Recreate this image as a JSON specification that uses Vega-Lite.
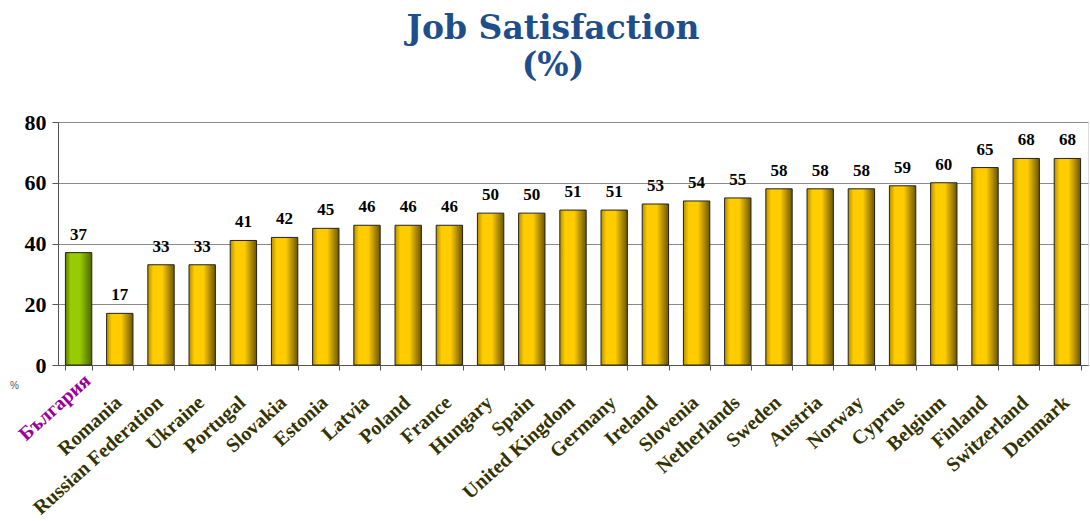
{
  "$schema": "https://vega.github.io/schema/vega-lite/v6.json",
  "width": 1030,
  "height": 243,
  "autosize": {"type": "none"},
  "padding": {"left": 58, "top": 122, "right": 2, "bottom": 156},
  "background": "white",
  "title": {
    "text": ["Job Satisfaction", "(%)"],
    "font": "DejaVu Serif",
    "fontSize": 33,
    "fontWeight": "bold",
    "color": "#1f4e8a",
    "anchor": "middle",
    "dx": -20,
    "offset": 28,
    "lineHeight": 37
  },
  "data": {
    "values": [
      {"Country": "България", "Value": 37},
      {"Country": "Romania", "Value": 17},
      {"Country": "Russian Federation", "Value": 33},
      {"Country": "Ukraine", "Value": 33},
      {"Country": "Portugal", "Value": 41},
      {"Country": "Slovakia", "Value": 42},
      {"Country": "Estonia", "Value": 45},
      {"Country": "Latvia", "Value": 46},
      {"Country": "Poland", "Value": 46},
      {"Country": "France", "Value": 46},
      {"Country": "Hungary", "Value": 50},
      {"Country": "Spain", "Value": 50},
      {"Country": "United Kingdom", "Value": 51},
      {"Country": "Germany", "Value": 51},
      {"Country": "Ireland", "Value": 53},
      {"Country": "Slovenia", "Value": 54},
      {"Country": "Netherlands", "Value": 55},
      {"Country": "Sweden", "Value": 58},
      {"Country": "Austria", "Value": 58},
      {"Country": "Norway", "Value": 58},
      {"Country": "Cyprus", "Value": 59},
      {"Country": "Belgium", "Value": 60},
      {"Country": "Finland", "Value": 65},
      {"Country": "Switzerland", "Value": 68},
      {"Country": "Denmark", "Value": 68}
    ]
  },
  "encoding": {
    "x": {
      "field": "Country",
      "type": "nominal",
      "sort": null,
      "scale": {"paddingInner": 0.36, "paddingOuter": 0.18},
      "axis": {
        "title": null,
        "labelAngle": -42,
        "labelFont": "Liberation Serif",
        "labelFontWeight": "bold",
        "labelFontSize": 20,
        "labelColor": {"condition": {"test": "datum.value === 'България'", "value": "#990099"}, "value": "#333300"},
        "labelPadding": {"condition": {"test": "datum.value === 'България'", "value": 0}, "value": 22},
        "labelOffset": {"condition": {"test": "datum.value === 'България'", "value": 2}, "value": -8},
        "tickBand": "extent",
        "tickSize": 5,
        "tickColor": "#555555",
        "domainColor": "#555555",
        "labelOverlap": false,
        "labelLimit": 300
      }
    },
    "y": {
      "field": "Value",
      "type": "quantitative",
      "scale": {"domain": [0, 80]},
      "axis": {
        "values": [0, 20, 40, 60, 80],
        "title": "%",
        "titleAngle": 0,
        "titleX": -44,
        "titleY": 268,
        "titleFont": "Liberation Sans",
        "titleFontSize": 10,
        "titleFontWeight": "normal",
        "titleColor": "#555555",
        "labelFont": "Liberation Serif",
        "labelFontWeight": "bold",
        "labelFontSize": 22,
        "labelColor": "#000000",
        "labelPadding": 6,
        "tickSize": 6,
        "tickColor": "#555555",
        "domainColor": "#555555",
        "gridColor": "#8a8a8a",
        "gridWidth": 1
      }
    }
  },
  "layer": [
    {
      "mark": {"type": "bar", "stroke": "#222222", "strokeWidth": 1},
      "encoding": {
        "fill": {
          "condition": {
            "test": "datum.Country === 'България'",
            "value": {
              "gradient": "linear", "x1": 0, "x2": 1, "y1": 0, "y2": 0,
              "stops": [
                {"offset": 0, "color": "#5a7a00"},
                {"offset": 0.2, "color": "#99cc00"},
                {"offset": 0.55, "color": "#99cc00"},
                {"offset": 1, "color": "#4a6600"}
              ]
            }
          },
          "value": {
            "gradient": "linear", "x1": 0, "x2": 1, "y1": 0, "y2": 0,
            "stops": [
              {"offset": 0, "color": "#b38f00"},
              {"offset": 0.2, "color": "#ffcc00"},
              {"offset": 0.55, "color": "#ffcc00"},
              {"offset": 1, "color": "#6b5500"}
            ]
          }
        }
      }
    },
    {
      "mark": {"type": "text", "dy": -18, "font": "Liberation Serif", "fontWeight": "bold", "fontSize": 17, "color": "#000000"},
      "encoding": {"text": {"field": "Value", "type": "quantitative"}}
    }
  ]
}
